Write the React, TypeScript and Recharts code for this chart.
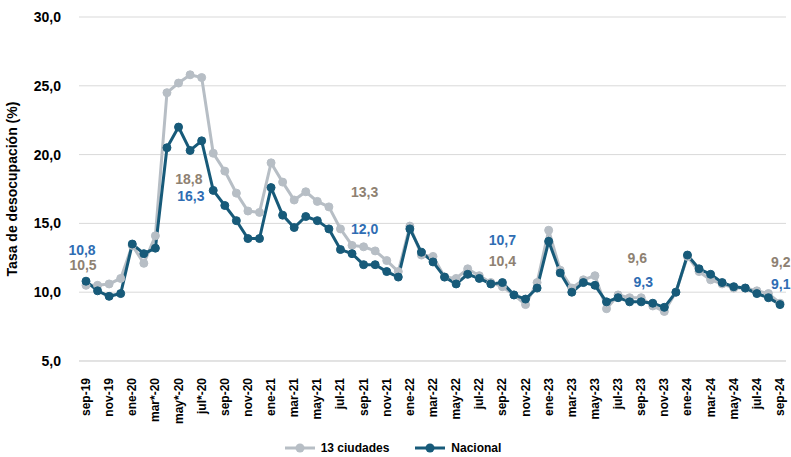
import { CartesianGrid, LabelList, Legend, Line, LineChart, XAxis, YAxis } from 'recharts'

// Monthly labels, sep-19 .. sep-24
const months = [
  'sep-19', 'oct-19', 'nov-19', 'dic-19',
  'ene-20', 'feb-20', 'mar*-20', 'abr*-20', 'may*-20', 'jun*-20', 'jul*-20', 'ago-20', 'sep-20', 'oct-20', 'nov-20', 'dic-20',
  'ene-21', 'feb-21', 'mar-21', 'abr-21', 'may-21', 'jun-21', 'jul-21', 'ago-21', 'sep-21', 'oct-21', 'nov-21', 'dic-21',
  'ene-22', 'feb-22', 'mar-22', 'abr-22', 'may-22', 'jun-22', 'jul-22', 'ago-22', 'sep-22', 'oct-22', 'nov-22', 'dic-22',
  'ene-23', 'feb-23', 'mar-23', 'abr-23', 'may-23', 'jun-23', 'jul-23', 'ago-23', 'sep-23', 'oct-23', 'nov-23', 'dic-23',
  'ene-24', 'feb-24', 'mar-24', 'abr-24', 'may-24', 'jun-24', 'jul-24', 'ago-24', 'sep-24',
]

const nacional = [
  10.8, 10.1, 9.7, 9.9,
  13.5, 12.8, 13.2, 20.5, 22.0, 20.3, 21.0, 17.4, 16.3, 15.2, 13.9, 13.9,
  17.6, 15.6, 14.7, 15.5, 15.2, 14.6, 13.1, 12.8, 12.0, 12.0, 11.5, 11.1,
  14.6, 12.9, 12.2, 11.1, 10.6, 11.3, 11.0, 10.6, 10.7, 9.8, 9.5, 10.3,
  13.7, 11.4, 10.0, 10.7, 10.5, 9.3, 9.6, 9.3, 9.3, 9.2, 8.9, 10.0,
  12.7, 11.7, 11.3, 10.7, 10.4, 10.3, 9.9, 9.6, 9.1,
]

const ciudades13 = [
  10.5, 10.5, 10.6, 11.0,
  13.4, 12.1, 14.1, 24.5, 25.2, 25.8, 25.6, 20.1, 18.8, 17.2, 15.9, 15.8,
  19.4, 18.0, 16.7, 17.3, 16.6, 16.2, 14.6, 13.4, 13.3, 13.0, 12.3, 11.5,
  14.8, 12.7, 12.6, 11.1, 11.0, 11.7, 11.2, 10.7, 10.4, 9.8, 9.1, 10.7,
  14.5, 11.6, 10.3, 10.9, 11.2, 8.8, 9.8, 9.6, 9.6, 9.0, 8.6, 10.0,
  12.6, 11.5, 10.9, 10.6, 10.3, 10.3, 10.1, 9.9, 9.2,
]

const yTicks = [5, 10, 15, 20, 25, 30]

const data = months.map((m, i) => ({
  month: m,
  nacional: nacional[i],
  ciudades: ciudades13[i],
}))

const DARK = '#175a79'
const LIGHT = '#b7bec5'
const BLUE_TXT = '#2f6db3'
const GRAY_TXT = '#8e8172'
const FONT = '"Liberation Sans", Arial, sans-serif'

// label placement relative to the point (only September values are labelled)
const NAC_OFFSETS: Record<string, { dx: number; dy: number; anchor: string }> = {
  'sep-19': { dx: -4, dy: -31, anchor: 'middle' },
  'sep-20': { dx: -34, dy: -10, anchor: 'middle' },
  'sep-21': { dx: 1, dy: -36, anchor: 'middle' },
  'sep-22': { dx: 0, dy: -43, anchor: 'middle' },
  'sep-23': { dx: 2, dy: -20, anchor: 'middle' },
  'sep-24': { dx: -9, dy: -21, anchor: 'start' },
}
const CIU_OFFSETS: Record<string, { dx: number; dy: number; anchor: string }> = {
  'sep-19': { dx: -3, dy: -20, anchor: 'middle' },
  'sep-20': { dx: -36, dy: 8, anchor: 'middle' },
  'sep-21': { dx: 1, dy: -55, anchor: 'middle' },
  'sep-22': { dx: 0, dy: -26, anchor: 'middle' },
  'sep-23': { dx: -4, dy: -40, anchor: 'middle' },
  'sep-24': { dx: -9, dy: -41, anchor: 'start' },
}

const fmt = (v: number) => v.toFixed(1).replace('.', ',')

function makeLabel(offsets: typeof NAC_OFFSETS, color: string) {
  return (props: any) => {
    const { x, y, value, index } = props
    const o = offsets[months[index]]
    if (!o) return null
    return (
      <text
        x={x + o.dx}
        y={y + o.dy}
        textAnchor={o.anchor as any}
        dominantBaseline="central"
        fill={color}
        fontSize={14}
        fontWeight={700}
        fontFamily={FONT}
      >
        {fmt(value)}
      </text>
    )
  }
}

function MonthTick(props: any) {
  const { x, y, payload } = props
  return (
    <g transform={`translate(${x},${y})`}>
      <text
        transform="rotate(-90)"
        x={-9}
        y={0}
        textAnchor="end"
        dominantBaseline="central"
        fill="#000"
        fontSize={12}
        fontWeight={700}
        fontFamily={FONT}
      >
        {payload.value}
      </text>
    </g>
  )
}

function LegendContent() {
  const items = [
    { label: '13 ciudades', color: LIGHT },
    { label: 'Nacional', color: DARK },
  ]
  return (
    <div style={{ display: 'flex', justifyContent: 'center', gap: 26, fontFamily: FONT }}>
      {items.map((it) => (
        <div key={it.label} style={{ display: 'flex', alignItems: 'center', gap: 6 }}>
          <svg width={30} height={12}>
            <line x1={0} y1={6} x2={30} y2={6} stroke={it.color} strokeWidth={3} />
            <circle cx={15} cy={6} r={4.5} fill={it.color} />
          </svg>
          <span style={{ fontSize: 12, fontWeight: 700, color: '#000' }}>{it.label}</span>
        </div>
      ))}
    </div>
  )
}

export default function App() {
  return (
    <div style={{ position: 'absolute', left: 0, top: 0, background: '#fff' }}>
      <LineChart
        width={791}
        height={457}
        data={data}
        margin={{ top: 17, right: 5, left: 0, bottom: 0 }}
      >
        <CartesianGrid vertical={false} stroke="#d9d9d9" strokeWidth={1} />
        <XAxis
          dataKey="month"
          interval={1}
          tick={<MonthTick />}
          tickLine={false}
          axisLine={{ stroke: '#d9d9d9' }}
          padding={{ left: 7, right: 6 }}
          height={60}
        />
        <YAxis
          domain={[5, 30]}
          ticks={yTicks}
          tickFormatter={fmt}
          tickLine={false}
          axisLine={false}
          width={79}
          tickMargin={12}
          tick={{ fill: '#000', fontSize: 14, fontWeight: 700, fontFamily: FONT }}
          label={{
            value: 'Tasa de desocupación (%)',
            angle: -90,
            position: 'insideLeft',
            offset: 12,
            style: { textAnchor: 'middle', fill: '#000', fontSize: 14, fontWeight: 700, fontFamily: FONT },
          }}
        />
        <Legend
          verticalAlign="bottom"
          height={36}
          content={<LegendContent />}
          wrapperStyle={{ top: 441, bottom: 'auto' }}
        />
        <Line
          dataKey="ciudades"
          name="13 ciudades"
          stroke={LIGHT}
          strokeWidth={3}
          dot={{ r: 4, fill: LIGHT, stroke: LIGHT, strokeWidth: 1 }}
          isAnimationActive={false}
        >
          <LabelList dataKey="ciudades" content={makeLabel(CIU_OFFSETS, GRAY_TXT)} />
        </Line>
        <Line
          dataKey="nacional"
          name="Nacional"
          stroke={DARK}
          strokeWidth={3}
          dot={{ r: 4, fill: DARK, stroke: DARK, strokeWidth: 1 }}
          isAnimationActive={false}
        >
          <LabelList dataKey="nacional" content={makeLabel(NAC_OFFSETS, BLUE_TXT)} />
        </Line>
      </LineChart>
    </div>
  )
}
